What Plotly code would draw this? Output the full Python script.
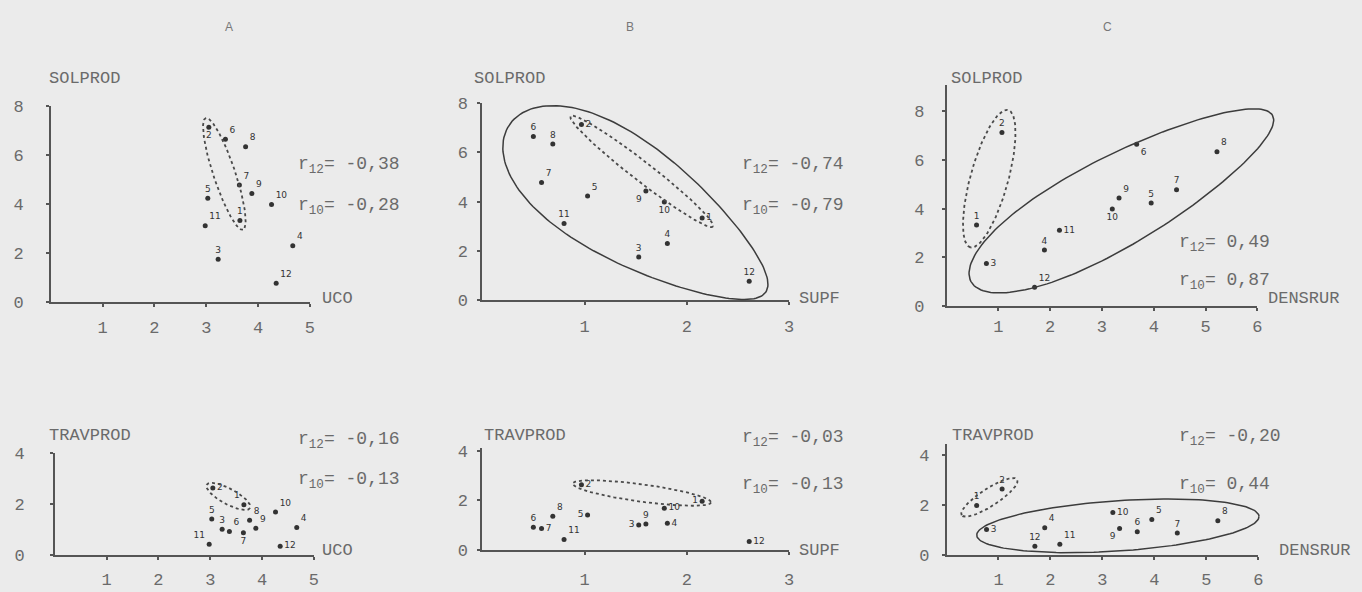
import numpy as np
import plotly.graph_objects as go

W, H = 1362, 592

# ---- data: twelve regions, five variables ----
regions = [str(i) for i in range(1, 13)]
uco      = [3.65, 3.05, 3.23, 4.67, 3.03, 3.37, 3.64, 3.76, 3.88, 4.26, 2.98, 4.35]
supf     = [2.15, 0.97, 1.53, 1.81, 1.03, 0.50, 0.58, 0.69, 1.60, 1.78, 0.80, 2.61]
densrur  = [0.58, 1.07, 0.77, 1.89, 3.95, 3.67, 4.44, 5.22, 3.33, 3.20, 2.18, 1.70]
solprod  = [3.33, 7.12, 1.75, 2.30, 4.23, 6.64, 4.77, 6.33, 4.43, 3.98, 3.11, 0.77]
travprod = [1.97, 2.63, 1.01, 1.08, 1.41, 0.92, 0.87, 1.36, 1.05, 1.69, 0.42, 0.34]

column_titles = ["A", "B", "C"]
x_names = ["UCO", "SUPF", "DENSRUR"]
y_names = ["SOLPROD", "TRAVPROD"]
x_data = [uco, supf, densrur]
y_data = [solprod, travprod]
x_tickvals = [[1, 2, 3, 4, 5], [1, 2, 3], [1, 2, 3, 4, 5, 6]]
y_tickvals = [[0, 2, 4, 6, 8], [0, 2, 4]]

# correlation over all 12 regions and over the 10 without regions 1 and 2
r12_text = [["-0,38", "-0,74", "0,49"], ["-0,16", "-0,03", "-0,20"]]
r10_text = [["-0,28", "-0,79", "0,87"], ["-0,13", "-0,13", "0,44"]]
outlier_group = [1, 0]          # regions 2 and 1 (indices)

# ---- panel geometry (pixels) ----
# x0/x1: left/right ends of the x axis, y0/y1: bottom/top of the y axis
geom = {
    (0, 0): dict(x0=51,  x1=311,  y0=304, y1=101, xr=[0, 5], yr=[0, 8.0],  ys=19, xs=6),
    (0, 1): dict(x0=484, x1=792,  y0=302, y1=98,  xr=[0, 3], yr=[0, 8.0],  ys=6,  xs=7),
    (0, 2): dict(x0=950, x1=1262, y0=308, y1=80,  xr=[0, 6], yr=[0, 9.05], ys=14, xs=1),
    (1, 0): dict(x0=55,  x1=315,  y0=565, y1=460, xr=[0, 5], yr=[0, 4.0],  ys=22, xs=5),
    (1, 1): dict(x0=484, x1=792,  y0=560, y1=455, xr=[0, 3], yr=[0, 4.1],  ys=6,  xs=10),
    (1, 2): dict(x0=950, x1=1263, y0=565, y1=450, xr=[0, 6], yr=[0, 4.45], ys=9,  xs=5),
}

# position of each point number relative to its dot
label_pos = {
    (0, 0): ["top center", "bottom center", "top center", "top right", "top center", "top right",
             "top right", "top right", "top right", "top right", "top right", "top right"],
    (0, 1): ["middle right", "middle right", "top center", "top center", "top right", "top center",
             "top right", "top center", "bottom left", "bottom center", "top center", "top center"],
    (0, 2): ["top center", "top center", "middle right", "top center", "top center", "bottom right",
             "top center", "top right", "top right", "bottom center", "middle right", "top right"],
    (1, 0): ["top left", "middle right", "top center", "top right", "top center", "top right",
             "bottom center", "top right", "top right", "top right", "top left", "middle right"],
    (1, 1): ["middle left", "middle right", "middle left", "middle right", "middle left", "top center",
             "middle right", "top right", "top center", "middle right", "top right", "middle right"],
    (1, 2): ["top center", "top center", "middle right", "top right", "top right", "top center",
             "top center", "top right", "bottom left", "middle right", "top right", "top center"],
}

# dotted ring round the outlier pair: padding along / across the pair (px)
pair_pad = {(0, 0): (10, 11), (0, 1): (14, 10), (0, 2): (24, 19),
            (1, 0): (7, 8), (1, 1): (9, 9), (1, 2): (18, 9)}

# solid rings: centre (px), semi-axes (px), screen angle (deg), egg factor
solid_rings = {
    (0, 1): dict(cx=640, cy=207, a=155, b=60, ang=34, k=0.28),
    (0, 2): dict(cx=1126, cy=197, a=174, b=46, ang=-29.7, k=0.15),
    (1, 2): dict(cx=1122, cy=535, a=142, b=26, ang=-4, k=0.0),
}

# r annotations: left x, y of r12 line, y of r10 line (px)
r_pos = {(0, 0): (297, 160, 202), (0, 1): (743, 160, 202), (0, 2): (1181, 240, 280),
         (1, 0): (297, 444, 485), (1, 1): (743, 442, 490), (1, 2): (1181, 441, 490)}

# axis name positions (px): y name (left, y), x name (left, y)
y_name_pos = {(0, 0): (47, 73), (0, 1): (474, 73), (0, 2): (952, 73),
              (1, 0): (47, 442), (1, 1): (484, 442), (1, 2): (954, 442)}
x_name_pos = {(0, 0): (321, 300), (0, 1): (800, 300), (0, 2): (1271, 300),
              (1, 0): (321, 560), (1, 1): (800, 560), (1, 2): (1282, 561)}
title_pos = [(230, 20), (632, 20), (1112, 20)]

INK = "#333333"
AXIS = "#555555"
TEXT = "#6a6a6a"
MONO = "Liberation Mono"


def ring(a, b, ang, k, n=180):
    """Closed ring (px offsets from its centre, screen orientation)."""
    t = np.linspace(0, 2 * np.pi, n)
    u = a * np.cos(t)
    v = b * np.sin(t) * (1 - k * np.cos(t))
    ca, sa = np.cos(np.radians(ang)), np.sin(np.radians(ang))
    return u * ca - v * sa, u * sa + v * ca


fig = go.Figure()
layout_axes = {}
annotations = []


def px_ann(x, y, text, size=18, anchor="left", color=TEXT, family=MONO):
    annotations.append(dict(
        x=x / W, y=1 - y / H, xref="paper", yref="paper", text=text, showarrow=False,
        xanchor=anchor, yanchor="middle", font=dict(family=family, size=size, color=color)))


# full-page overlay in pixel units for the hand-drawn group rings
OV = 7
layout_axes[f"xaxis{OV}"] = dict(domain=[0, 1], range=[0, W], visible=False, fixedrange=True)
layout_axes[f"yaxis{OV}"] = dict(domain=[0, 1], range=[H, 0], visible=False, fixedrange=True)
ring_traces = []

for (row, col), g in geom.items():
    k = row * 3 + col + 1
    xs = x_data[col]
    ys = y_data[row]
    sx = (g["x1"] - g["x0"]) / (g["xr"][1] - g["xr"][0])
    sy = (g["y0"] - g["y1"]) / (g["yr"][1] - g["yr"][0])
    xa, ya = f"x{k}", f"y{k}"

    # dotted ring round regions 2 and 1
    i, j = outlier_group
    p1 = np.array([g["x0"] + xs[i] * sx, g["y0"] - ys[i] * sy])
    p2 = np.array([g["x0"] + xs[j] * sx, g["y0"] - ys[j] * sy])
    mid = (p1 + p2) / 2
    d = p2 - p1
    pa, pb = pair_pad[(row, col)]
    dx, dy = ring(np.hypot(*d) / 2 + pa, pb, np.degrees(np.arctan2(d[1], d[0])), 0)
    ring_traces.append(go.Scatter(
        x=mid[0] + dx, y=mid[1] + dy,
        mode="lines", line=dict(color="#4a4a4a", width=1.8, dash="dot"),
        hoverinfo="skip", showlegend=False, xaxis=f"x{OV}", yaxis=f"y{OV}"))

    # solid ring round the main group
    if (row, col) in solid_rings:
        s = solid_rings[(row, col)]
        dx, dy = ring(s["a"], s["b"], s["ang"], s["k"])
        ring_traces.append(go.Scatter(
            x=s["cx"] + dx, y=s["cy"] + dy,
            mode="lines", line=dict(color="#3c3c3c", width=1.5),
            hoverinfo="skip", showlegend=False, xaxis=f"x{OV}", yaxis=f"y{OV}"))

    # the regions
    fig.add_trace(go.Scatter(
        x=xs, y=ys, mode="markers+text", text=regions,
        textposition=label_pos[(row, col)],
        textfont=dict(family="DejaVu Sans", size=9, color=INK),
        marker=dict(size=5, color=INK), cliponaxis=False,
        showlegend=False, xaxis=xa, yaxis=ya))

    common = dict(showline=True, linecolor=AXIS, linewidth=1.5, showgrid=False, zeroline=False,
                  ticks="outside", ticklen=3, tickwidth=1.5, tickcolor=AXIS,
                  tickfont=dict(family=MONO, size=17, color=TEXT), fixedrange=True)
    layout_axes[f"xaxis{k}"] = dict(
        domain=[g["x0"] / W, g["x1"] / W], range=g["xr"], anchor=ya,
        tickvals=x_tickvals[col], ticklabelstandoff=g["xs"], **common)
    layout_axes[f"yaxis{k}"] = dict(
        domain=[1 - g["y0"] / H, 1 - g["y1"] / H], range=g["yr"], anchor=xa,
        tickvals=y_tickvals[row], ticklabelstandoff=g["ys"], **common)

    # axis names and correlation coefficients
    px_ann(*y_name_pos[(row, col)], y_names[row], size=17)
    px_ann(*x_name_pos[(row, col)], x_names[col], size=17)
    rx, ry12, ry10 = r_pos[(row, col)]
    px_ann(rx, ry12 + 3, f"r<sub>12</sub>= {r12_text[row][col]}", size=18)
    px_ann(rx, ry10 + 3, f"r<sub>10</sub>= {r10_text[row][col]}", size=18)

for tr in ring_traces:
    fig.add_trace(tr)

for (tx, ty), t in zip(title_pos, column_titles):
    px_ann(tx, ty, t, size=12, anchor="center", color="#777777", family="Liberation Sans")

fig.update_layout(
    width=W, height=H, margin=dict(l=0, r=0, t=0, b=0),
    paper_bgcolor="#ebebeb", plot_bgcolor="rgba(0,0,0,0)",
    annotations=annotations, showlegend=False, **layout_axes)

fig.write_html("out.html")
